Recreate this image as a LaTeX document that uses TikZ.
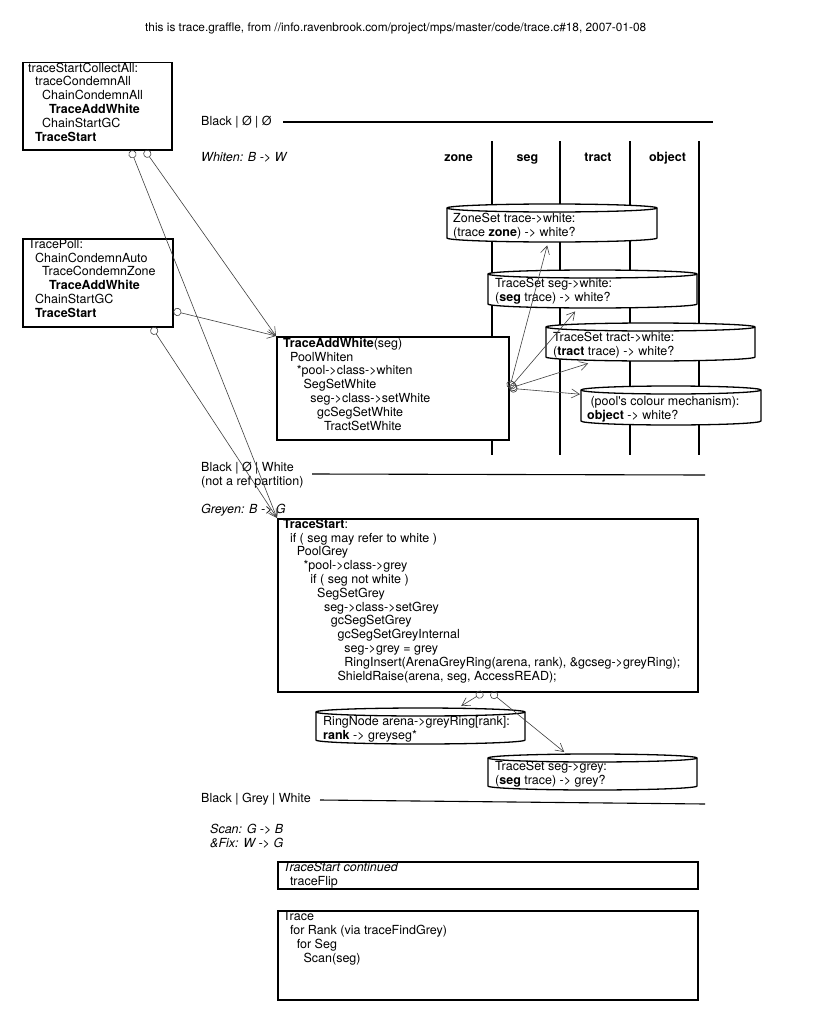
\documentclass[tikz,border=0pt]{standalone}
\usepackage{fontspec}
\setmainfont{TeX Gyre Heros}
\usetikzlibrary{arrows.meta,calc}
\newcommand\fs{\fontsize{12.5}{13.8}\selectfont}
\newcommand\fst{\fontsize{11.85}{13.8}\selectfont}
\newdimen\indA \indA=7pt
\newdimen\indB \indB=6.8pt
\newcommand\lead[1]{\rule{0pt}{#1pt}}
\newcommand\ia[1]{\hspace*{#1\indA}}
\newcommand\ib[1]{\hspace*{#1\indB}}
\tikzset{
  box/.style={draw, line width=1.5pt, fill=white, inner sep=0pt, anchor=north west},
  txt/.style={inner sep=0pt, anchor=north west, align=left, font=\fs},
  lbl/.style={inner sep=0pt, anchor=base west, font=\fs},
  hdr/.style={inner sep=0pt, anchor=base, font=\fs\bfseries},
  cylnode/.style={inner sep=0pt, anchor=north west},
  cyl/.style={draw, line width=1.3pt, fill=white},
  rulel/.style={line width=1.1pt},
  vline/.style={line width=1.1pt},
  conn/.style={draw=black!75, line width=0.6pt, {Circle[open,length=8pt,width=8pt]}-{Straight Barb[length=8pt,width=9pt]}}
}
\newcommand\mycyl[5]{%
  \node[cylnode, minimum width=#4pt, minimum height=#5pt] (#1) at (#2,-#3) {};
  \draw[cyl] (#2,{-#3-4}) -- (#2,{-#3-#5+4}) arc[start angle=180,end angle=360,x radius=#4pt/2,y radius=4pt] -- ({#2+#4},{-#3-4}) arc[start angle=0,end angle=180,x radius=#4pt/2,y radius=4pt] -- cycle;
  \draw[cyl] (#2,{-#3-4}) arc[start angle=180,end angle=360,x radius=#4pt/2,y radius=4pt];
}
\begin{document}
\begin{tikzpicture}[x=1pt,y=1pt]
\fill[white] (0,0) rectangle (812,-1022);
\useasboundingbox (0,0) rectangle (812,-1022);

\node[lbl, font=\fst] (title) at (145,-32) {this is trace.graffle, from //info.ravenbrook.com/project/mps/master/code/trace.c\#18, 2007-01-08};

% column separators
\foreach \x in {492,560,630,699} \draw[vline] (\x,-141) -- (\x,-455);

% state rules
\draw[rulel] (283,-122) -- (713,-122);
\draw[rulel] (312,-474) -- (705,-475);
\draw[rulel] (320,-800) -- (705,-804);

% labels
\node[lbl] (st1) at (201,-125.5) {Black | Ø | Ø};
\node[lbl, font=\fs\itshape] (ph1) at (201,-161) {Whiten: B -> W};
\node[hdr] (hzone) at (458.5,-161) {zone};
\node[hdr] (hseg) at (527.5,-161) {seg};
\node[hdr] (htract) at (598,-161) {tract};
\node[hdr] (hobj) at (667.5,-161) {object};
\node[txt] (st2) at (201,-461.5) {\lead{10}Black | Ø | White\\(not a ref partition)};
\node[lbl, font=\fs\itshape] (ph2) at (201,-513.5) {Greyen: B -> G};
\node[lbl] (st3) at (201,-802) {Black | Grey | White};
\node[txt, font=\fs\itshape] (ph3) at (210,-823) {\lead{10}Scan: G -> B\\\&Fix: W -> G};

% boxes
\node[box, minimum width=149pt, minimum height=87pt] (b1) at (22,-62) {};
\node[txt] (b1t) at (28,-62) {\lead{10}traceStartCollectAll:\\ \ia1traceCondemnAll\\ \ia2ChainCondemnAll\\ \ia3\textbf{TraceAddWhite}\\ \ia2ChainStartGC\\ \ia1\textbf{TraceStart}};

\node[box, minimum width=150pt, minimum height=88pt] (b2) at (22,-238) {};
\node[txt] (b2t) at (28,-238) {\lead{10}TracePoll:\\ \ia1ChainCondemnAuto\\ \ia2TraceCondemnZone\\ \ia3\textbf{TraceAddWhite}\\ \ia1ChainStartGC\\ \ia1\textbf{TraceStart}};

\node[box, minimum width=232pt, minimum height=103pt] (taw) at (276,-336) {};
\node[txt] (tawt) at (283,-336) {\lead{11}\textbf{TraceAddWhite}(seg)\\ \ib1PoolWhiten\\ \ib2*pool->class->whiten\\ \ib3SegSetWhite\\ \ib4seg->class->setWhite\\ \ib5gcSegSetWhite\\ \ib6TractSetWhite};

\node[box, minimum width=420pt, minimum height=173pt] (ts) at (277,-518) {};
\node[txt] (tst) at (283,-518) {\lead{10}\textbf{TraceStart}:\\ \ib1if ( seg may refer to white )\\ \ib2PoolGrey\\ \ib3*pool->class->grey\\ \ib4if ( seg not white )\\ \ib5SegSetGrey\\ \ib6seg->class->setGrey\\ \ib7gcSegSetGrey\\ \ib8gcSegSetGreyInternal\\ \ib9seg->grey = grey\\ \ib9RingInsert(ArenaGreyRing(arena, rank), \&gcseg->greyRing);\\ \ib8ShieldRaise(arena, seg, AccessREAD);};

\node[box, minimum width=420pt, minimum height=27pt] (tsc) at (277,-861) {};
\node[txt] (tsct) at (283,-861) {\lead{10}\textit{TraceStart continued}\\ \ib1traceFlip};

\node[box, minimum width=420pt, minimum height=89pt] (tr) at (277,-910) {};
\node[txt] (trt) at (283,-910) {\lead{10.5}Trace\\ \ib1for Rank (via traceFindGrey)\\ \ib2for Seg\\ \ib3Scan(seg)};

% cylinders
\mycyl{zs}{447}{204}{210}{38}
\node[txt] (zst) at (453,-204) {\lead{18}ZoneSet trace->white:\\(trace \textbf{zone}) -> white?};
\mycyl{ssw}{488}{270}{209}{38}
\node[txt] (sswt) at (495,-270) {\lead{17.3}TraceSet seg->white:\\(\textbf{seg} trace) -> white?};
\mycyl{tsw}{546}{323}{209}{38}
\node[txt] (tswt) at (553,-323) {\lead{18}TraceSet tract->white:\\(\textbf{tract} trace) -> white?};
\mycyl{pw}{581}{386}{180}{39}
\node[txt] (pwt) at (587,-386) {\lead{19}\hspace*{3.3pt}(pool\textquotesingle s colour mechanism):\\\textbf{object} -> white?};
\mycyl{rn}{316}{708}{209}{36}
\node[txt] (rnt) at (323,-708) {\lead{17}RingNode arena->greyRing[rank]:\\\textbf{rank} -> greyseg*};
\mycyl{sg}{488}{754}{209}{36}
\node[txt] (sgt) at (495,-754) {\lead{16}TraceSet seg->grey:\\(\textbf{seg} trace) -> grey?};

% connectors
\draw[conn] ([xshift=109pt]b1.south west) -- (ts.north west);
\draw[conn] ([xshift=123pt]b1.south west) -- (taw.north west);
\draw[conn] ([xshift=130pt]b2.south west) -- (ts.north west);
\draw[conn] ([yshift=-73pt]b2.north east) -- (taw.north west);
\draw[conn] (taw.east) -- ([xshift=-5pt,yshift=-3pt]zs.south);
\draw[conn] (taw.east) -- ([xshift=-17.5pt,yshift=-3pt]ssw.south);
\draw[conn] (taw.east) -- ([xshift=-62.5pt,yshift=-2pt]tsw.south);
\draw[conn] (taw.east) -- ([xshift=-1pt,yshift=11.5pt]pw.west);
\draw[conn] ([xshift=206pt]ts.south west) -- ([xshift=40.5pt,yshift=2pt]rn.north);
\draw[conn] ([xshift=214pt]ts.south west) -- ([xshift=-28.5pt,yshift=2pt]sg.north);
\end{tikzpicture}
\end{document}
